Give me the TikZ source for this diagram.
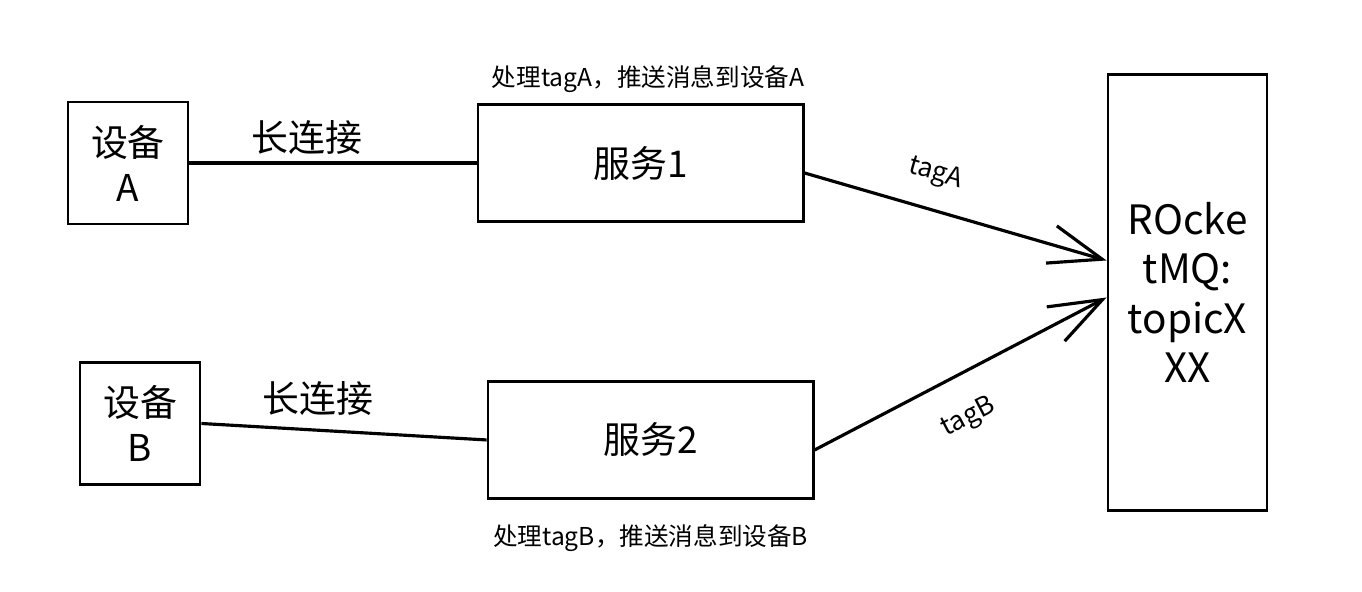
\documentclass[tikz,border=0pt]{standalone}
\usepackage{fontspec}
\setmainfont{Noto Sans CJK SC}
\usetikzlibrary{arrows.meta, positioning}

\begin{document}
\begin{tikzpicture}[
  x=0.01cm, y=-0.01cm,
  node distance = 1cm,
  device/.style = {
    rectangle, draw,
    minimum width=1.2cm, minimum height=1.22cm,
    align=center, font=\fontsize{10.5}{12.8}\selectfont,
    inner sep=0pt, line width=0.8pt
  },
  service/.style = {
    rectangle, draw,
    minimum width=3.25cm, minimum height=1.17cm,
    text centered, font=\fontsize{10.5}{12}\selectfont,
    line width=0.8pt
  },
  queue/.style = {
    rectangle, draw,
    minimum width=1.59cm, minimum height=4.35cm,
    align=center, font=\fontsize{11.5}{14}\selectfont,
    inner sep=0pt, line width=0.8pt
  },
  note/.style = {font=\fontsize{7}{8}\selectfont, inner sep=1pt},
  link/.style = {line width=0.9pt},
  arrow/.style = {-{Straight Barb[length=15pt, width=11pt]}, line width=0.9pt},
  tag/.style = {font=\fontsize{7.5}{9}\selectfont, inner sep=1pt, sloped}
]
\useasboundingbox (0,0) rectangle (1362,592);
%--- DEVICES ---
\node[device] (devA) at (128,163) {设备\\A};
\node[device] (devB) at (140,423.5) {设备\\B};
%--- SERVICES ---
\node[service, right=2.87cm of devA] (srv1) {服务1};
\node[service, below=1.57cm of srv1, xshift=0.1cm] (srv2) {服务2};
\node[note, above=0.06cm of srv1, xshift=0.075cm] (noteA) {处理tagA，推送消息到设备A};
\node[note, below=0.2cm of srv2] (noteB) {处理tagB，推送消息到设备B};
%--- ROCKETMQ ---
\node[queue] (mq) at (1187.5,292.5) {ROcke\\tMQ:\\topicX\\XX};
%--- CONNECTIONS ---
\draw[link] (devA.east) -- (srv1.west)
  node[pos=0.41, yshift=0.25cm, font=\fontsize{10.5}{12}\selectfont] (connA) {长连接};
\draw[link] (devB.east) -- (srv2.west)
  node[pos=0.41, yshift=0.32cm, font=\fontsize{10.5}{12}\selectfont] (connB) {长连接};
%--- ARROWS ---
\draw[arrow] ([yshift=-0.1cm]srv1.east) -- ([yshift=0.32cm]mq.west)
  node[tag, above=5pt, pos=0.4] (tagA) {tagA};
\draw[arrow] ([yshift=-0.1cm]srv2.east) -- ([yshift=-0.05cm]mq.west)
  node[tag, below=7pt, pos=0.46] (tagB) {tagB};
\end{tikzpicture}
\end{document}
